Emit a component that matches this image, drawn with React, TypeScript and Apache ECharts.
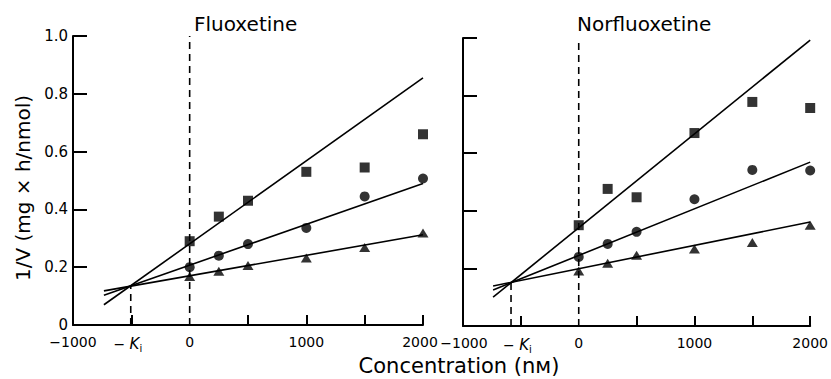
import React, { useEffect, useRef } from "react";
import * as echarts from "echarts";

const concentrations = [0, 250, 500, 1000, 1500, 2000];
const fluoSquares = [0.29, 0.375, 0.43, 0.53, 0.545, 0.66];
const fluoCircles = [0.2, 0.24, 0.28, 0.336, 0.445, 0.507];
const fluoTriangles = [0.168, 0.186, 0.206, 0.232, 0.268, 0.318];
const norSquares = [0.35, 0.476, 0.447, 0.67, 0.778, 0.757];
const norCircles = [0.24, 0.285, 0.327, 0.44, 0.542, 0.54];
const norTriangles = [0.191, 0.218, 0.246, 0.267, 0.29, 0.35];

const fluoFitX = [-735, 2000];
const fluoFitSquare = [0.07, 0.855];
const fluoFitCircle = [0.103, 0.49];
const fluoFitTriangle = [0.118, 0.312];
const norFitX = [-740, 2000];
const norFitSquare = [0.1, 0.993];
const norFitCircle = [0.125, 0.569];
const norFitTriangle = [0.139, 0.361];

const kiX = [-505, -585];
const kiY = [0.137, 0.15];

const panelTitles = ["Fluoxetine", "Norfluoxetine"];
const xTickValues = [-500, 500, 1000, 1500, 2000];
const xLabelValues = [-1000, -500, 0, 1000, 2000];
const yAxisTitle = "1/V (mg × h/nmol)";
const xAxisTitle = "Concentration (nм)";

const FONT = "DejaVu Sans";

export default function App() {
  const ref = useRef<HTMLDivElement>(null);
  useEffect(() => {
    document.body.style.margin = "0";
    const chart = echarts.init(ref.current!, null, { renderer: "svg" });
    const pts = (ys: number[]) => concentrations.map((x, i) => [x, ys[i]]);
    const fit = (xs: number[], ys: number[]) => xs.map((x, i) => [x, ys[i]]);

    const grids = [
      { left: 73, top: 36, width: 350, height: 289 },
      { left: 463, top: 38, width: 349, height: 288 },
    ];
    const xAxes: any[] = grids.map((_, gi) => ({
      type: "value",
      gridIndex: gi,
      min: -1000,
      max: 2000,
      interval: 500,
      axisLine: { show: true, onZero: false, lineStyle: { color: "#000", width: 2 } },
      axisTick: {
        show: true,
        inside: true,
        length: 10,
        customValues: xTickValues,
        lineStyle: { color: "#000", width: 2 },
      },
      splitLine: { show: false },
      axisLabel: {
        show: true,
        customValues: xLabelValues,
        margin: 10,
        fontFamily: FONT,
        fontSize: 14,
        color: "#000",
        formatter: (v: number) => {
          if (v === -500) return "{a|− }{k|K}{s|i}{p|}";
          if (v < 0) return gi === 1 ? "{l|−" + Math.abs(v) + "}" : "−" + Math.abs(v);
          if (v === 2000 && gi === 0) return "{r|2000}";
          return String(v);
        },
        rich: {
          a: { fontFamily: FONT, fontSize: 14, color: "#000" },
          k: { fontFamily: FONT, fontSize: 15, fontStyle: "italic", color: "#000" },
          s: { fontFamily: FONT, fontSize: 10, color: "#000", padding: [8, 0, 0, 0] },
          p: { width: 7 },
          r: { fontFamily: FONT, fontSize: 14, color: "#000", padding: [0, 6, 0, 0] },
          l: { fontFamily: FONT, fontSize: 14, color: "#000", padding: [0, 0, 0, 2] },
        },
      },
    }));
    // helper x axes (hidden) whose zero sits at each grid's left edge
    grids.forEach((_, gi) => {
      xAxes.push({
        type: "value",
        gridIndex: gi,
        min: 0,
        max: 1,
        show: true,
        axisLine: { show: false, onZero: false },
        axisTick: { show: false },
        axisLabel: { show: false },
        splitLine: { show: false },
      });
    });
    const yAxes = grids.map((_, gi) => ({
      type: "value",
      gridIndex: gi,
      min: 0,
      max: 1,
      interval: 0.2,
      axisLine: {
        show: true,
        onZero: true,
        onZeroAxisIndex: 2 + gi,
        lineStyle: { color: "#000", width: 2 },
      },
      axisTick: {
        show: true,
        inside: true,
        length: 14,
        lineStyle: { color: "#000", width: 2 },
      },
      splitLine: { show: false },
      axisLabel: {
        show: gi === 0,
        margin: 5,
        fontFamily: FONT,
        fontSize: 15,
        color: "#000",
        formatter: (v: number) => (v === 0 ? "0" : v.toFixed(1)),
      },
    }));

    const scatter = (gi: number, data: number[][], symbol: string, size: any) => ({
      type: "scatter",
      xAxisIndex: gi,
      yAxisIndex: gi,
      data,
      symbol,
      symbolSize: size,
      itemStyle: { color: "#000" },
      z: 5,
    });
    const line = (gi: number, data: number[][], dashed = false) => ({
      type: "line",
      xAxisIndex: gi,
      yAxisIndex: gi,
      data,
      symbol: "none",
      silent: true,
      lineStyle: dashed
        ? { color: "#000", width: 1.6, type: [7, 5] }
        : { color: "#000", width: 1.6 },
      z: 3,
    });

    const series = [
      line(0, fit(fluoFitX, fluoFitSquare)),
      line(0, fit(fluoFitX, fluoFitCircle)),
      line(0, fit(fluoFitX, fluoFitTriangle)),
      line(0, [[0, 0], [0, 1]], true),
      line(0, [[kiX[0], 0], [kiX[0], kiY[0]]], true),
      scatter(0, pts(fluoSquares), "rect", 10),
      scatter(0, pts(fluoCircles), "circle", 10),
      scatter(0, pts(fluoTriangles), "triangle", [11, 9]),
      line(1, fit(norFitX, norFitSquare)),
      line(1, fit(norFitX, norFitCircle)),
      line(1, fit(norFitX, norFitTriangle)),
      line(1, [[0, 0], [0, 1]], true),
      line(1, [[kiX[1], 0], [kiX[1], kiY[1]]], true),
      scatter(1, pts(norSquares), "rect", 10),
      scatter(1, pts(norCircles), "circle", 10),
      scatter(1, pts(norTriangles), "triangle", [11, 9]),
    ];

    chart.setOption({
      animation: false,
      backgroundColor: "#fff",
      title: [
        {
          text: panelTitles[0],
          left: 189,
          top: 9,
          textStyle: { fontFamily: FONT, fontSize: 20, fontWeight: "normal", color: "#000" },
        },
        {
          text: panelTitles[1],
          left: 572,
          top: 9,
          textStyle: { fontFamily: FONT, fontSize: 20, fontWeight: "normal", color: "#000" },
        },
      ],
      grid: grids,
      xAxis: xAxes,
      yAxis: yAxes,
      series,
      graphic: [
        {
          type: "text",
          x: 459,
          y: 366,
          style: {
            text: xAxisTitle,
            fontFamily: FONT,
            fontSize: 21,
            fill: "#000",
            align: "center",
            verticalAlign: "middle",
          },
        },
        {
          type: "text",
          x: 23,
          y: 188,
          rotation: Math.PI / 2,
          style: {
            text: yAxisTitle,
            fontFamily: FONT,
            fontSize: 20,
            fill: "#000",
            align: "center",
            verticalAlign: "middle",
          },
        },
      ],
    });
    return () => chart.dispose();
  }, []);
  return <div ref={ref} style={{ width: 831, height: 379 }} />;
}
